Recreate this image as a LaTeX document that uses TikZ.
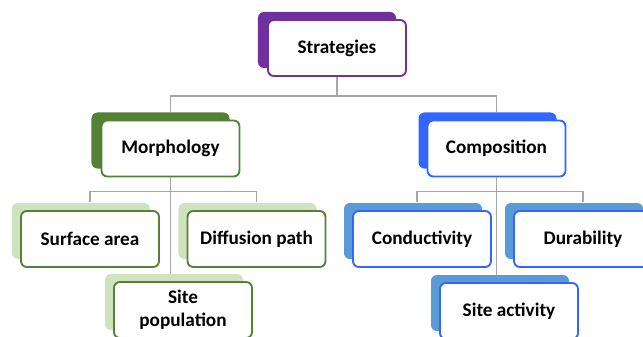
\documentclass[tikz,border=0pt]{standalone}
\usepackage{fontspec}
\setmainfont{Carlito}
\usetikzlibrary{shadows,calc}
\definecolor{purp}{HTML}{7030A0}
\definecolor{dgreen}{HTML}{548235}
\definecolor{lgreen}{HTML}{CFE3C0}
\definecolor{vblue}{HTML}{3366FF}
\definecolor{mblue}{HTML}{5B9BD5}
\definecolor{linegray}{HTML}{A6A6A6}

\begin{document}
\begin{tikzpicture}
		[x=0.03cm,y=-0.03cm,
		box/.style={draw,fill=white,line width=1.6pt,rounded corners=5pt,minimum width=4.14cm,minimum height=1.68cm,align=center,font=\bfseries\fontsize{16.4}{19.5}\selectfont},
		top box/.style={box,draw=purp,general shadow={fill=purp,draw=none,shadow xshift=-0.3cm,shadow yshift=0.24cm}},
		green box/.style={box,draw=dgreen,general shadow={fill=dgreen,draw=none,shadow xshift=-0.3cm,shadow yshift=0.24cm}},
		lgreen box/.style={box,draw=dgreen,general shadow={fill=lgreen,draw=none,shadow xshift=-0.27cm,shadow yshift=0.24cm}},
		blue box/.style={box,draw=vblue,general shadow={fill=vblue,draw=none,shadow xshift=-0.27cm,shadow yshift=0.24cm}},
		mblue box/.style={box,draw=vblue,general shadow={fill=mblue,draw=none,shadow xshift=-0.27cm,shadow yshift=0.24cm}},
		link/.style={draw=linegray,line width=1.3pt}]
		\clip (0,0) rectangle (643,337);
		
		\node[top box] (strat) at (337,48) {Strategies};
		
		\node[green box] (morph) at (170.5,148.5) {Morphology};
		\node[blue box] (comp) at (496.5,148.5) {Composition};
		
		\node[lgreen box] (surf) at (90,239) {Surface area};
		\node[lgreen box] (diff) at (256.5,239) {Diffusion path};
		\node[lgreen box] (sitepop) at (183,310) {Site\\population};
		
		\node[mblue box] (cond) at (422,239) {Conductivity};
		\node[mblue box] (dura) at (583,239) {Durability};
		\node[mblue box] (siteact) at (509,311) {Site activity};
		
		\draw[link] (strat.south) -- ++(0,19) -| ($(morph.north)+(0,-8)$);
		\draw[link] (strat.south) -- ++(0,19) -| ($(comp.north)+(0,-8)$);
		
		\draw[link] ($(surf.north)+(0,-8)$) |- ($(morph.south)+(0,14)$) -| ($(diff.north)+(0,-8)$);
		\draw[link] (morph.south) -- ($(morph.south |- sitepop.north)+(0,-7)$);
		
		\draw[link] ($(cond.north)+(-5,-8)$) |- ($(comp.south)+(0,14)$) -| ($(dura.north)+(0,-8)$);
		\draw[link] (comp.south) -- ($(comp.south |- siteact.north)+(0,-7)$);
		\end{tikzpicture}
\end{document}
